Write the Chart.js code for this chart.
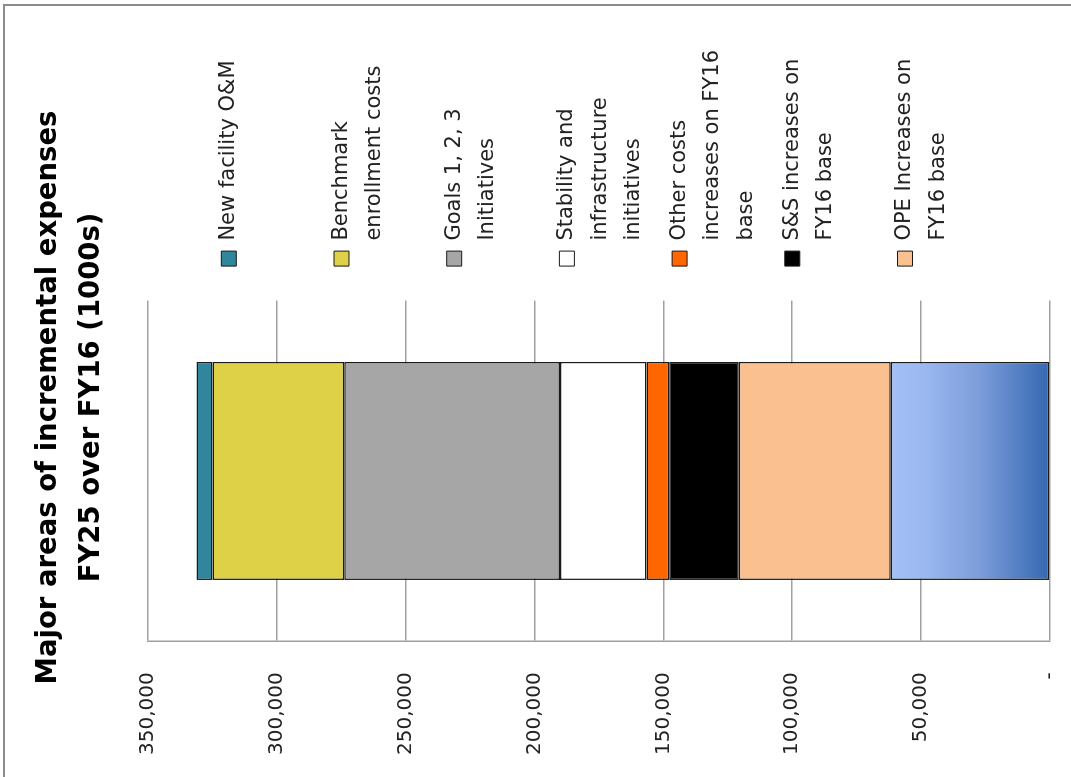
<!DOCTYPE html>
<html>
<head>
<meta charset="utf-8">
<script src="https://cdn.jsdelivr.net/npm/chart.js@4.4.1/dist/chart.umd.min.js"></script>
<style>
  html, body { margin: 0; padding: 0; background: #ffffff; overflow: hidden; }
  body { width: 1071px; height: 777px; position: relative; }
  #frame { position: absolute; left: 3px; top: 4px; width: 1070px; height: 775px;
           border-top: 2px solid #8c8c8c; border-left: 2px solid #8c8c8c; box-sizing: border-box; }
  #wrap { position: absolute; left: 0; top: 0; width: 777px; height: 1071px;
          transform-origin: 0 0; transform: translate(0px, 777px) rotate(-90deg); }
</style>
</head>
<body>
<div id="frame"></div>
<div id="wrap"><canvas id="c"></canvas></div>
<script>
// ---- data ----
const categories = ['FY25 over FY16'];
const seriesNames = [
  'FY16 base',
  'OPE Increases on FY16 base',
  'S&S increases on FY16 base',
  'Other costs increases on FY16 base',
  'Stability and infrastructure initiatives',
  'Goals 1, 2, 3 Initiatives',
  'Benchmark enrollment costs',
  'New facility O&M'
];
const seriesLegendLines = [
  [],
  ['OPE Increases on', 'FY16 base'],
  ['S&S increases on', 'FY16 base'],
  ['Other costs', 'increases on FY16', 'base'],
  ['Stability and', 'infrastructure', 'initiatives'],
  ['Goals 1, 2, 3', 'Initiatives'],
  ['Benchmark', 'enrollment costs'],
  ['New facility O&M']
];
const seriesValues = [61800, 58900, 27000, 8800, 33600, 83700, 51100, 6200];
const seriesColors = ['#6f93d6', '#fac08f', '#000000', '#ff6600', '#ffffff', '#a6a6a6', '#ded047', '#31859c'];
const tickValues = [0, 50000, 100000, 150000, 200000, 250000, 300000, 350000];
const tickLabels = ['-', '50,000', '100,000', '150,000', '200,000', '250,000', '300,000', '350,000'];
const titleLines = ['Major areas of incremental expenses', 'FY25 over FY16 (1000s)'];

// gradient for the base segment, built from the value scale
function baseFill(ctx) {
  const chart = ctx.chart;
  if (!chart.chartArea) return seriesColors[0];
  const ys = chart.scales.y;
  const p0 = ys.getPixelForValue(0);
  const p1 = ys.getPixelForValue(seriesValues[0]);
  const g = chart.ctx.createLinearGradient(0, p0, 0, p1);
  g.addColorStop(0, '#3567b1');
  g.addColorStop(0.45, '#7d9edb');
  g.addColorStop(0.8, '#9bb8f1');
  g.addColorStop(1, '#a3c0f7');
  return g;
}

const datasets = seriesNames.map((name, i) => ({
  label: name,
  data: [seriesValues[i]],
  backgroundColor: i === 0 ? baseFill : seriesColors[i],
  borderColor: '#1a1a1a',
  borderWidth: 1.5,
  borderSkipped: false,
  barPercentage: 0.8,
  categoryPercentage: 0.8,
  stack: 's'
}));

Chart.defaults.font.family = "'DejaVu Sans', sans-serif";

new Chart(document.getElementById('c'), {
  type: 'bar',
  data: { labels: categories, datasets },
  options: {
    responsive: true,
    maintainAspectRatio: false,
    devicePixelRatio: 1,
    animation: false,
    layout: { padding: { left: 22, right: 40, top: 0, bottom: 21 } },
    scales: {
      x: { stacked: true, display: false },
      y: {
        stacked: true,
        min: 0, max: 350000,
        afterBuildTicks: (axis) => { axis.ticks = tickValues.map(v => ({ value: v })); },
        ticks: {
          callback: (v, idx) => tickLabels[idx],
          color: '#222222',
          font: { family: "'DejaVu Sans'", size: 20 },
          padding: 0
        },
        grid: { color: '#a0a0a0', lineWidth: 1.5, drawTicks: true, tickLength: 31, tickColor: 'rgba(0,0,0,0)' },
        border: { display: true, color: '#a0a0a0', width: 1.5 }
      },
      spacer: {
        type: 'linear', position: 'right', display: true,
        grid: { display: false, drawTicks: false },
        border: { display: false },
        ticks: { display: false },
        title: { display: true, text: '', font: { size: 1, lineHeight: 1 }, padding: { top: 0, bottom: 21 } }
      }
    },
    plugins: {
      title: {
        display: true,
        text: titleLines,
        color: '#000000',
        font: { family: "'DejaVu Sans'", size: 27.5, weight: 'bold', lineHeight: '43.4px' },
        padding: { top: 27, bottom: 34 }
      },
      legend: {
        position: 'right',
        align: 'start',
        fullSize: false,
        reverse: true,
        maxWidth: 400,
        title: { display: true, text: ' ', font: { size: 10, lineHeight: 1 }, padding: { top: 48, bottom: 0 } },
        labels: {
          color: '#222222',
          font: { family: "'DejaVu Sans'", size: 21, lineHeight: 33.4 / 21 },
          boxWidth: 15,
          boxHeight: 15,
          padding: 12.5,
          filter: (item) => item.datasetIndex !== 0,
          generateLabels: (chart) => {
            const items = Chart.defaults.plugins.legend.labels.generateLabels(chart);
            items.forEach(it => {
              const lines = seriesLegendLines[it.datasetIndex].slice();
              while (lines.length < 3) lines.push('');
              it.text = lines;
              it.lineWidth = 1;
            });
            return items;
          }
        }
      },
      tooltip: { enabled: false }
    }
  }
});
</script>
</body>
</html>
